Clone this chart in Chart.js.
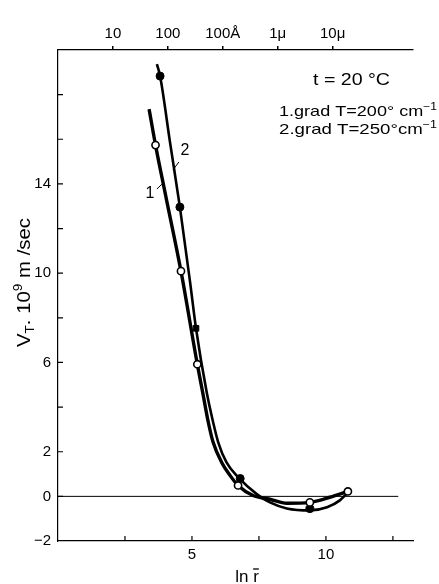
<!DOCTYPE html>
<html>
<head>
<meta charset="utf-8">
<script src="https://cdn.jsdelivr.net/npm/chart.js@4.4.1/dist/chart.umd.min.js"></script>
<style>
  html, body { margin: 0; padding: 0; background: #fff; }
</style>
</head>
<body>
<canvas id="vtChart" width="439" height="584"></canvas>
<script>
// curve 1 (grad T = 200) traced line and its open points
var curve1X = [3.40, 3.64, 4.03, 4.59, 5.20, 5.40, 5.61, 5.79, 6.11, 6.42, 6.72, 7.28, 7.91, 8.54, 9.40, 10.15, 10.82];
var curve1Y = [17.35, 15.74, 13.41, 10.09, 5.92, 4.66, 3.32, 2.42, 1.52, 0.94, 0.49, 0.04, -0.13, -0.31, -0.27, -0.04, 0.22];
var points1X = [3.64, 4.59, 5.20, 6.72, 9.40, 10.82];
var points1Y = [15.74, 10.09, 5.92, 0.49, -0.27, 0.22];

// curve 2 (grad T = 250) traced line and its filled points
var curve2X = [3.69, 3.81, 4.18, 4.55, 4.93, 5.15, 5.55, 5.79, 5.98, 6.29, 6.73, 7.43, 7.91, 8.54, 9.40, 10.04, 10.52, 10.82];
var curve2Y = [19.37, 18.83, 15.87, 12.96, 9.60, 7.53, 4.66, 3.32, 2.42, 1.52, 0.85, 0.09, -0.27, -0.54, -0.63, -0.49, -0.18, 0.18];
var points2X = [3.81, 4.55, 5.15, 6.80, 9.40];
var points2Y = [18.83, 12.96, 7.53, 0.80, -0.55];
var points2Style = ["circle", "circle", "rect", "circle", "circle"];

// axes
var xLabelVals = [5, 10];
var yLabelVals = [-2, 0, 2, 6, 10, 14];
var topTickVals = [2.05, 4.1, 6.15, 8.2, 10.25];
var topTickLabels = ["10", "100", "100Å", "1μ", "10μ"];
var zeroLineX = [0, 12.7];

var FONT = "'Liberation Sans', Arial, sans-serif";

function xy(xs, ys) {
    return xs.map(function (x, i) { return { x: x, y: ys[i] }; });
}

// draw runs of [text, size, shift] squeezed or stretched to a width
function drawRuns(ctx, runs, x, y, width) {
    var natural = 0;
    runs.forEach(function (r) {
        ctx.font = r[1] + "px " + FONT;
        natural += ctx.measureText(r[0]).width;
    });
    var k = width / natural;
    ctx.save();
    ctx.translate(x, y);
    ctx.scale(k, 1);
    var cx = 0;
    runs.forEach(function (r) {
        ctx.font = r[1] + "px " + FONT;
        ctx.fillText(r[0], cx, r[2]);
        cx += ctx.measureText(r[0]).width;
    });
    ctx.restore();
}

// inward tick marks, titles and notes
var extras = {
    id: "extras",
    afterDraw: function (chart) {
        var ctx = chart.ctx;
        var xs = chart.scales.x;
        var ys = chart.scales.y;
        var area = chart.chartArea;
        ctx.save();
        ctx.strokeStyle = "#000";
        ctx.fillStyle = "#000";
        ctx.lineWidth = 1.2;
        ctx.textAlign = "left";
        ctx.textBaseline = "alphabetic";

        ctx.beginPath();
        for (var v = 2.5; v <= 12.5; v += 2.5) {
            var px = xs.getPixelForValue(v);
            ctx.moveTo(px, area.bottom);
            ctx.lineTo(px, area.bottom - 5);
        }
        for (var w = 0; w <= 18; w += 2) {
            var py = ys.getPixelForValue(w);
            ctx.moveTo(area.left, py);
            ctx.lineTo(area.left + 5, py);
        }
        ctx.stroke();

        // x title: ln r with bar
        ctx.font = "17px " + FONT;
        var t1 = "ln ";
        var wl = ctx.measureText(t1).width;
        var wr = ctx.measureText("r").width;
        var x0 = 247 - (wl + wr) / 2;
        ctx.fillText(t1, x0, 582);
        ctx.fillText("r", x0 + wl, 582);
        ctx.beginPath();
        ctx.moveTo(x0 + wl, 569);
        ctx.lineTo(x0 + wl + wr, 569);
        ctx.lineWidth = 1.3;
        ctx.stroke();

        // y title
        ctx.save();
        ctx.translate(30, 347);
        ctx.rotate(-Math.PI / 2);
        drawRuns(ctx, [
            ["V", 18, 0],
            ["T", 12, 4],
            [". 10", 18, 0],
            ["9", 12, -8],
            [" m /sec", 18, 0]
        ], 0, 0, 129);
        ctx.restore();

        // notes
        drawRuns(ctx, [["t = 20 °C", 16, 0]], 313, 85, 77);
        drawRuns(ctx, [["1.grad T=200° cm", 15, 0], ["−1", 10, -6]], 279, 116, 158);
        drawRuns(ctx, [["2.grad T=250°cm", 15, 0], ["−1", 10, -6]], 279, 134, 158);

        // curve labels with leaders
        ctx.font = "16px " + FONT;
        ctx.textAlign = "center";
        ctx.fillText("2", xs.getPixelForValue(4.74), ys.getPixelForValue(15.56) + 6);
        ctx.fillText("1", xs.getPixelForValue(3.43), ys.getPixelForValue(13.65) + 6);
        ctx.lineWidth = 1;
        ctx.beginPath();
        ctx.moveTo(xs.getPixelForValue(4.51), ys.getPixelForValue(14.98));
        ctx.lineTo(xs.getPixelForValue(4.29), ys.getPixelForValue(14.62));
        ctx.moveTo(xs.getPixelForValue(3.69), ys.getPixelForValue(13.77));
        ctx.lineTo(xs.getPixelForValue(3.96), ys.getPixelForValue(14.08));
        ctx.stroke();
        ctx.restore();
    }
};

var ctx = document.getElementById("vtChart").getContext("2d");
var vtChart = new Chart(ctx, {
    type: "line",
    data: {
        datasets: [
            {
                data: xy(points1X, points1Y),
                showLine: false,
                pointRadius: 3.6,
                pointBackgroundColor: "#fff",
                pointBorderColor: "#000",
                pointBorderWidth: 1.6
            },
            {
                data: xy(points2X, points2Y),
                showLine: false,
                pointStyle: points2Style,
                pointRadius: 4,
                pointBackgroundColor: "#000",
                pointBorderColor: "#000",
                pointBorderWidth: 1
            },
            {
                data: xy(curve1X, curve1Y),
                borderColor: "#000",
                borderWidth: 3.4,
                pointRadius: 0,
                cubicInterpolationMode: "monotone"
            },
            {
                data: xy(curve2X, curve2Y),
                borderColor: "#000",
                borderWidth: 2.6,
                pointRadius: 0,
                cubicInterpolationMode: "monotone"
            },
            {
                data: xy(zeroLineX, [0, 0]),
                borderColor: "#000",
                borderWidth: 1,
                pointRadius: 0
            }
        ]
    },
    options: {
        responsive: false,
        animation: false,
        layout: { padding: { left: 0, right: 26, top: 0, bottom: 0 } },
        plugins: { legend: { display: false }, tooltip: { enabled: false } },
        scales: {
            x: {
                type: "linear",
                position: "bottom",
                min: 0,
                max: 13.25,
                afterFit: function (s) { s.height = 43; },
                grid: { display: false, drawTicks: false },
                border: { display: true, color: "#000", width: 1.2 },
                ticks: {
                    stepSize: 2.5,
                    padding: 5,
                    color: "#000",
                    font: { family: FONT, size: 15 },
                    maxRotation: 0,
                    autoSkip: false,
                    callback: function (v) { return xLabelVals.indexOf(v) >= 0 ? String(v) : ""; }
                }
            },
            x2: {
                type: "linear",
                position: "top",
                min: 0,
                max: 13.25,
                afterFit: function (s) { s.height = 50; },
                afterBuildTicks: function (s) {
                    s.ticks = topTickVals.map(function (v) { return { value: v }; });
                },
                grid: { display: true, drawOnChartArea: false, drawTicks: true, tickLength: 4, color: "#000", lineWidth: 1.5 },
                border: { display: true, color: "#000", width: 1.2 },
                ticks: {
                    padding: 3,
                    color: "#000",
                    font: { family: FONT, size: 15 },
                    maxRotation: 0,
                    autoSkip: false,
                    callback: function (v, i) { return topTickLabels[i]; }
                }
            },
            y: {
                type: "linear",
                min: -2,
                max: 20,
                afterFit: function (s) { s.width = 58; },
                grid: { display: false, drawTicks: false },
                border: { display: true, color: "#000", width: 1.2 },
                ticks: {
                    stepSize: 2,
                    padding: 7,
                    color: "#000",
                    font: { family: FONT, size: 15 },
                    autoSkip: false,
                    callback: function (v) {
                        if (yLabelVals.indexOf(v) < 0) return "";
                        return v < 0 ? "−" + Math.abs(v) : String(v);
                    }
                }
            }
        }
    },
    plugins: [extras]
});
</script>
</body>
</html>
